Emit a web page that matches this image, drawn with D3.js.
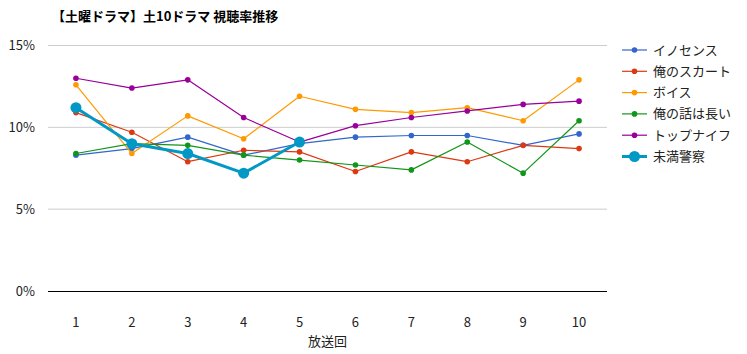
<!DOCTYPE html>
<html><head><meta charset="utf-8">
<script src="https://cdn.jsdelivr.net/npm/d3@7"></script>
<style>
body{margin:0;background:#fff;}
text{font-family:"Noto Sans CJK JP","Noto Sans",sans-serif;}
</style></head>
<body><svg id="c" width="747" height="354"></svg>
<script>
const episodes = [1,2,3,4,5,6,7,8,9,10];
const seriesNames = ["イノセンス","俺のスカート","ボイス","俺の話は長い","トップナイフ","未満警察"];
const innocence = [8.3,8.7,9.4,8.3,9.0,9.4,9.5,9.5,8.9,9.6];
const oreSkirt  = [10.9,9.7,7.9,8.6,8.5,7.3,8.5,7.9,8.9,8.7];
const voice     = [12.6,8.4,10.7,9.3,11.9,11.1,10.9,11.2,10.4,12.9];
const oreHanashi= [8.4,9.0,8.9,8.3,8.0,7.7,7.4,9.1,7.2,10.4];
const topKnife  = [13.0,12.4,12.9,10.6,9.1,10.1,10.6,11.0,11.4,11.6];
const mimanKeisatsu = [11.2,9.0,8.4,7.2,9.1];
const yTicks = [0,5,10,15];
const title = "【土曜ドラマ】土10ドラマ 視聴率推移";
const xTitle = "放送回";
const colors = ["#3366cc","#dc3912","#ff9900","#109618","#990099","#0099c6"];
const allSeries = [innocence,oreSkirt,voice,oreHanashi,topKnife,mimanKeisatsu];

const svg = d3.select("#c");
const L=48,R=607,T=45.5,B=291;
const x = d3.scaleBand().domain(episodes).range([L,R]);
const y = d3.scaleLinear().domain([0,15]).range([B,T]);

svg.append("text").attr("x",52).attr("y",21).attr("font-size",13).attr("font-weight","bold").attr("fill","#000").text(title);

// gridlines
svg.append("g").selectAll("line").data(yTicks.filter(d=>d>0)).join("line")
  .attr("x1",L).attr("x2",R).attr("y1",d=>y(d)).attr("y2",d=>y(d))
  .attr("stroke","#cccccc").attr("stroke-width",1);
svg.append("g").selectAll("text").data(yTicks).join("text")
  .attr("x",35).attr("y",d=>y(d)+4.5).attr("text-anchor","end").attr("font-size",13).attr("fill","#222")
  .text(d=>d+"%");

// x labels
svg.append("g").selectAll("text").data(episodes).join("text")
  .attr("x",d=>x(d)+x.bandwidth()/2).attr("y",327).attr("text-anchor","middle").attr("font-size",13).attr("fill","#222")
  .text(d=>d);
svg.append("text").attr("x",(L+R)/2).attr("y",346).attr("text-anchor","middle").attr("font-size",13).attr("fill","#222").text(xTitle);

const cx = i=>x(episodes[i])+x.bandwidth()/2;
allSeries.forEach((vals,si)=>{
  const big = si===5;
  const line = d3.line().x((d,i)=>cx(i)).y(d=>y(d));
  svg.append("path").datum(vals).attr("d",line).attr("fill","none")
    .attr("stroke",colors[si]).attr("stroke-width",big?3:1.2).attr("stroke-linejoin","round");
  svg.append("g").selectAll("circle").data(vals).join("circle")
    .attr("cx",(d,i)=>cx(i)).attr("cy",d=>y(d)).attr("r",big?5.5:2.8).attr("fill",colors[si]);
});

// baseline
svg.append("line").attr("x1",L).attr("x2",R).attr("y1",Math.round(y(0))+0.5).attr("y2",Math.round(y(0))+0.5).attr("stroke","#000").attr("stroke-width",1);

// legend
const lg = svg.append("g");
seriesNames.forEach((n,i)=>{
  const yy = 50 + i*21.3;
  const big = i===5;
  lg.append("line").attr("x1",622).attr("x2",647).attr("y1",yy).attr("y2",yy).attr("stroke",colors[i]).attr("stroke-width",big?3:1.2);
  lg.append("circle").attr("cx",634.5).attr("cy",yy).attr("r",big?5.5:2.8).attr("fill",colors[i]);
  lg.append("text").attr("x",653).attr("y",yy+4.5).attr("font-size",13).attr("fill","#222").text(n);
});
</script></body></html>
